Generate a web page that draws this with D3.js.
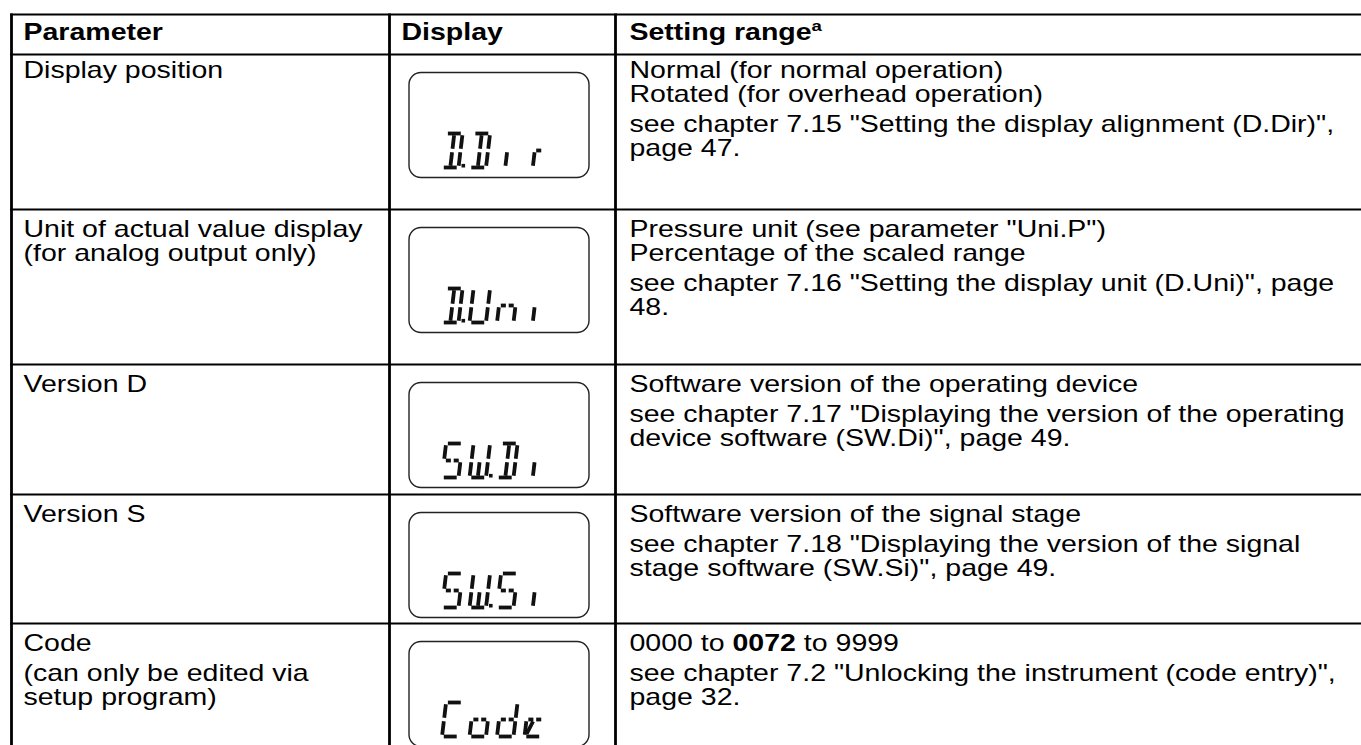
<!DOCTYPE html>
<html>
<head>
<meta charset="utf-8">
<script src="https://cdn.jsdelivr.net/npm/d3@7"></script>
<style>
  html, body { margin: 0; padding: 0; background: #fff; }
  svg { display: block; }
</style>
</head>
<body>
<div id="chart"></div>
<script>
// ---------------- data ----------------
const headers = ["Parameter", "Display", "Setting range"];
const headerNote = "a";
const parameters = [
  [["Display position"]],
  [["Unit of actual value display", "(for analog output only)"]],
  [["Version D"]],
  [["Version S"]],
  [["Code"], ["(can only be edited via", "setup program)"]]
];
const displayCodes = ["D.Dir", "D.Uni", "SW.Di", "SW.Si", "Code"];
const settingRanges = [
  ["Normal (for normal operation)", "Rotated (for overhead operation)"],
  ["Pressure unit (see parameter \"Uni.P\")", "Percentage of the scaled range"],
  ["Software version of the operating device"],
  ["Software version of the signal stage"],
  ["0000 to **0072** to 9999"]
];
const settingRefs = [
  ["see chapter 7.15 \"Setting the display alignment (D.Dir)\",", "page 47."],
  ["see chapter 7.16 \"Setting the display unit (D.Uni)\", page", "48."],
  ["see chapter 7.17 \"Displaying the version of the operating", "device software (SW.Di)\", page 49."],
  ["see chapter 7.18 \"Displaying the version of the signal", "stage software (SW.Si)\", page 49."],
  ["see chapter 7.2 \"Unlocking the instrument (code entry)\",", "page 32."]
];

// ---------------- layout ----------------
const width = 1361, height = 745;
const FS = 23, SX = 1.24, LH = 24, PGAP = 30;
const colX = [11.5, 389.5, 615.5];
const textPad = [12, 12, 14];
const rowTops = [54.5, 209.5, 364.5, 494.5, 623.5];
const topY = 14.5;
const firstBaselineOffset = [23, 27, 27, 27, 27];

const svg = d3.select("#chart").append("svg")
  .attr("width", width).attr("height", height)
  .attr("font-family", "'Liberation Sans', Arial, Helvetica, sans-serif")
  .attr("font-size", FS);

svg.append("rect").attr("width", width).attr("height", height).attr("fill", "#fff");

function parseRuns(str) {
  const parts = str.split("**");
  return parts.map((t, i) => ({ t, b: i % 2 === 1 })).filter(r => r.t.length);
}

function addLine(x, y, runs, bold) {
  const t = svg.append("text")
    .attr("transform", `translate(${x},${y}) scale(${SX},1)`)
    .attr("fill", "#000")
    .attr("font-weight", bold ? "bold" : "normal")
    .style("white-space", "pre");
  runs.forEach(r => {
    const ts = t.append("tspan").text(r.t);
    if (r.b) ts.attr("font-weight", "bold");
    if (r.sup) ts.attr("font-size", 15).attr("dy", -9);
  });
  return t;
}

function addParagraphs(x, y0, paragraphs) {
  let y = y0;
  paragraphs.forEach((para, pi) => {
    if (pi > 0) y += PGAP - LH;
    para.forEach(line => {
      addLine(x, y, parseRuns(line), false);
      y += LH;
    });
  });
}

// header
const headerBaseline = 40;
headers.forEach((h, i) => {
  const runs = [{ t: h }];
  if (i === 2) runs.push({ t: headerNote, sup: true });
  addLine(colX[i] + textPad[i], headerBaseline, runs, true);
});

// body rows
parameters.forEach((paras, r) => {
  const yb = rowTops[r] + firstBaselineOffset[r];
  addParagraphs(colX[0] + textPad[0], yb, paras);
  addParagraphs(colX[2] + textPad[2], yb, [settingRanges[r], settingRefs[r]]);
});

// ---------------- LCD display boxes ----------------
const W = 16.5, H = 34, SLANT = 0.12, PITCH = 27.5;
const segs = {
  a: [[1.8, 0], [W - 1.8, 0]],
  b: [[W, 1.8], [W, H / 2 - 1.8]],
  c: [[W, H / 2 + 1.8], [W, H - 1.8]],
  d: [[1.8, H], [W - 1.8, H]],
  e: [[0, H / 2 + 1.8], [0, H - 1.8]],
  f: [[0, 1.8], [0, H / 2 - 1.8]],
  g1: [[1.8, H / 2], [W / 2 - 1.4, H / 2]],
  g2: [[W / 2 + 1.4, H / 2], [W - 1.8, H / 2]],
  i: [[W / 2, 1.8], [W / 2, H / 2 - 1.8]],
  l: [[W / 2, H / 2 + 1.8], [W / 2, H - 1.8]],
  m: [[W / 2 + 1.5, H / 2 + 1.5], [W - 1.5, H - 1.5]],
  k: [[W / 2 - 1.5, H / 2 + 1.8], [1.8, H - 2.5]]
};
const glyphs = {
  D: ["a", "b", "c", "d", "i", "l"],
  i: ["l"],
  r: ["l", "g2"],
  U: ["b", "c", "d", "e", "f"],
  n: ["e", "g1", "g2", "c"],
  S: ["a", "f", "g1", "g2", "c", "d"],
  W: ["f", "e", "d", "c", "b", "l"],
  C: ["a", "f", "e", "d"],
  o: ["g1", "g2", "e", "c", "d"],
  d: ["b", "c", "d", "e", "g1", "g2"],
  e: ["g1", "g2", "e", "d", "k"]
};

function lcdChars(code) {
  const out = [];
  for (const ch of code) {
    if (ch === "." && out.length) out[out.length - 1].dot = true;
    else out.push({ ch, dot: false });
  }
  return out;
}

displayCodes.forEach((code, r) => {
  const boxTop = rowTops[r] + 18;
  svg.append("rect")
    .attr("x", 409).attr("y", boxTop)
    .attr("width", 180).attr("height", 105)
    .attr("rx", 12).attr("ry", 12)
    .attr("fill", "none").attr("stroke", "#222").attr("stroke-width", 1.4);

  const y0 = boxTop + 61;
  lcdChars(code).forEach((c, k) => {
    const x0 = 442 + PITCH * k;
    const map = ([u, v]) => [x0 + u + (H - v) * SLANT, y0 + v];
    const g = svg.append("g");
    (glyphs[c.ch] || []).forEach(s => {
      const [p, q] = segs[s].map(map);
      g.append("line")
        .attr("x1", p[0]).attr("y1", p[1]).attr("x2", q[0]).attr("y2", q[1])
        .attr("stroke", "#111").attr("stroke-width", 3.8);
    });
    if (c.dot) {
      const [dx, dy] = map([W + 3, H]);
      g.append("rect").attr("x", dx).attr("y", dy - 3.6)
        .attr("width", 3.6).attr("height", 3.6).attr("fill", "#111");
    }
  });
});

// ---------------- grid lines ----------------
const grid = svg.append("g").attr("stroke", "#000");
[topY, ...rowTops].forEach(y => {
  grid.append("line").attr("x1", colX[0] - 1.4).attr("x2", width)
    .attr("y1", y).attr("y2", y).attr("stroke-width", 2.2);
});
colX.forEach(x => {
  grid.append("line").attr("x1", x).attr("x2", x)
    .attr("y1", topY - 1.1).attr("y2", height).attr("stroke-width", 2.8);
});
</script>
</body>
</html>
